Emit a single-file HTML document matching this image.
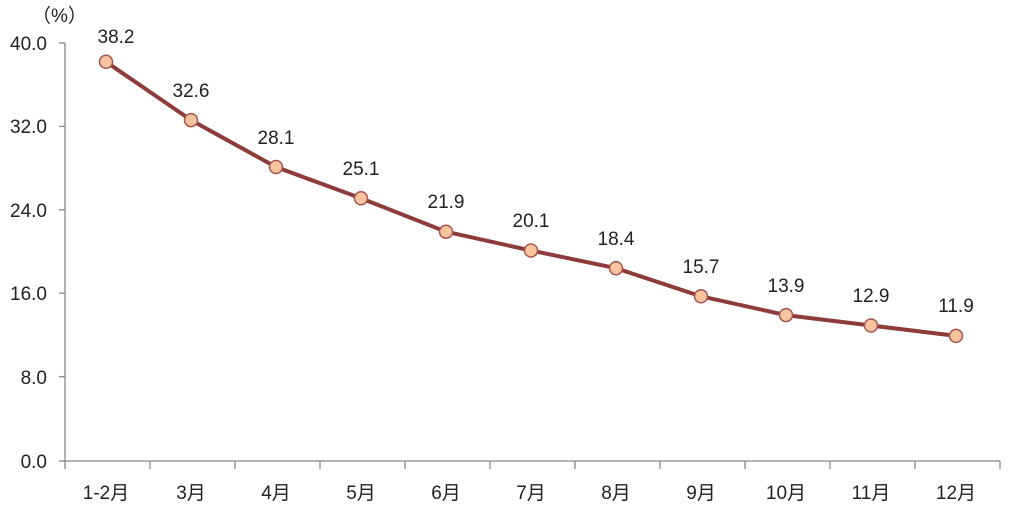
<!DOCTYPE html><html><head><style>body{margin:0;background:#fff}svg{display:block}text{font-family:"Liberation Sans","Noto Sans CJK SC",sans-serif;fill:#222}</style></head><body>
<svg width="1024" height="511" xmlns="http://www.w3.org/2000/svg">
<g stroke="#888" stroke-width="1.3">
<line x1="65" y1="43" x2="65" y2="461"/><line x1="65" y1="461" x2="1000" y2="461"/>
<line x1="59" y1="43" x2="65" y2="43"/><line x1="59" y1="126.4" x2="65" y2="126.4"/><line x1="59" y1="209.8" x2="65" y2="209.8"/><line x1="59" y1="293.2" x2="65" y2="293.2"/><line x1="59" y1="376.6" x2="65" y2="376.6"/><line x1="59" y1="461" x2="65" y2="461"/>
<line x1="65" y1="461" x2="65" y2="469"/><line x1="150" y1="461" x2="150" y2="469"/><line x1="235" y1="461" x2="235" y2="469"/><line x1="320" y1="461" x2="320" y2="469"/><line x1="405" y1="461" x2="405" y2="469"/><line x1="490" y1="461" x2="490" y2="469"/><line x1="575" y1="461" x2="575" y2="469"/><line x1="660" y1="461" x2="660" y2="469"/><line x1="745" y1="461" x2="745" y2="469"/><line x1="830" y1="461" x2="830" y2="469"/><line x1="915" y1="461" x2="915" y2="469"/><line x1="1000" y1="461" x2="1000" y2="469"/>
</g>
<g font-size="19" text-anchor="end">
<text x="47" y="50">40.0</text><text x="47" y="133">32.0</text><text x="47" y="217">24.0</text><text x="47" y="300">16.0</text><text x="47" y="384">8.0</text><text x="47" y="468">0.0</text>
</g>
<text x="32" y="22" font-size="19">（%）</text>
<g font-size="19" text-anchor="middle">
<text x="106" y="499">1-2月</text><text x="191" y="499">3月</text><text x="276" y="499">4月</text><text x="361" y="499">5月</text><text x="446" y="499">6月</text><text x="531" y="499">7月</text><text x="616" y="499">8月</text><text x="701" y="499">9月</text><text x="786" y="499">10月</text><text x="871" y="499">11月</text><text x="956" y="499">12月</text>
</g>
<polyline fill="none" stroke="#8E3B3B" stroke-width="4" points="106,61.8 191,120.1 276,167 361,198.3 446,231.7 531,250.5 616,268.2 701,296.3 786,315.1 871,325.5 956,335.9"/>
<g fill="#F8C4A0" stroke="#A5554E" stroke-width="1.5">
<circle cx="106" cy="61.8" r="6.5"/><circle cx="191" cy="120.1" r="6.5"/><circle cx="276" cy="167" r="6.5"/><circle cx="361" cy="198.3" r="6.5"/><circle cx="446" cy="231.7" r="6.5"/><circle cx="531" cy="250.5" r="6.5"/><circle cx="616" cy="268.2" r="6.5"/><circle cx="701" cy="296.3" r="6.5"/><circle cx="786" cy="315.1" r="6.5"/><circle cx="871" cy="325.5" r="6.5"/><circle cx="956" cy="335.9" r="6.5"/>
</g>
<g font-size="19" text-anchor="middle">
<text x="116" y="43">38.2</text><text x="191" y="97">32.6</text><text x="276" y="144">28.1</text><text x="361" y="175">25.1</text><text x="446" y="208">21.9</text><text x="531" y="227">20.1</text><text x="616" y="245">18.4</text><text x="701" y="273">15.7</text><text x="786" y="292">13.9</text><text x="871" y="302">12.9</text><text x="956" y="312">11.9</text>
</g>
</svg></body></html>
